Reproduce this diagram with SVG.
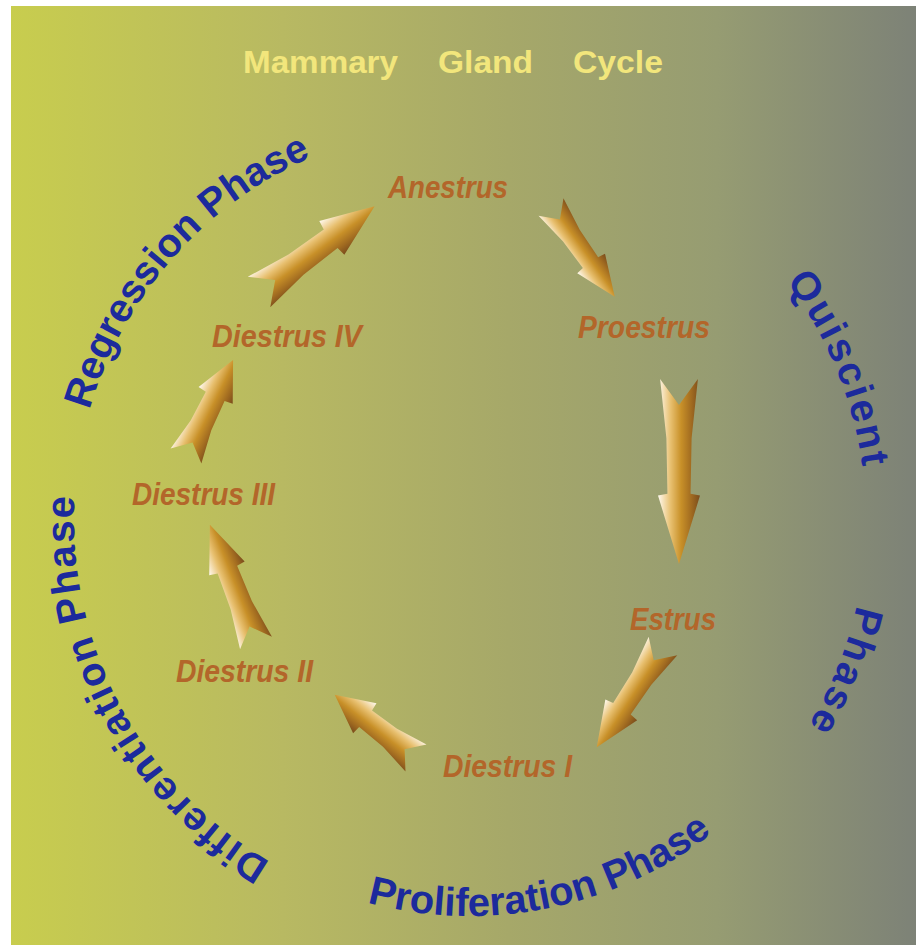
<svg xmlns="http://www.w3.org/2000/svg" xmlns:xlink="http://www.w3.org/1999/xlink" width="916" height="945" viewBox="0 0 916 945">
<defs>
<linearGradient id="bg" x1="0" y1="0" x2="1" y2="0">
<stop offset="0" stop-color="#c8cd4e"/>
<stop offset="0.3" stop-color="#b8b962"/>
<stop offset="0.55" stop-color="#a6a869"/>
<stop offset="0.78" stop-color="#969c72"/>
<stop offset="1" stop-color="#7d8277"/>
</linearGradient>
<linearGradient id="gA" x1="0" y1="0" x2="0" y2="1">
<stop offset="0" stop-color="#fffaf0"/>
<stop offset="0.3" stop-color="#e8c070"/>
<stop offset="0.55" stop-color="#c89028"/>
<stop offset="0.8" stop-color="#a06a20"/>
<stop offset="1" stop-color="#7a4c1c"/>
</linearGradient>
<linearGradient id="gB" x1="0" y1="1" x2="0" y2="0">
<stop offset="0" stop-color="#fffaf0"/>
<stop offset="0.3" stop-color="#e8c070"/>
<stop offset="0.55" stop-color="#c89028"/>
<stop offset="0.8" stop-color="#a06a20"/>
<stop offset="1" stop-color="#7a4c1c"/>
</linearGradient>
<path id="arr" d="M0,-18 L14,0 L0,18 L32,12 L62,11 L63,20 L100,0 L63,-20 L62,-11 L32,-12 Z"/>
<path id="cw180" d="M74,520 A396,396 0 0 1 866,520 A396,396 0 0 1 74,520"/>
<path id="cw0" d="M866,520 A396,396 0 0 1 74,520 A396,396 0 0 1 866,520"/>
<path id="ccw180" d="M74,520 A396,396 0 0 0 866,520 A396,396 0 0 0 74,520"/>
</defs>
<style>
.title{font-family:"Liberation Sans",Arial,sans-serif;font-weight:bold;font-size:31px;fill:#f2e67c}
.lbl{font-family:"Liberation Sans",Arial,sans-serif;font-weight:bold;font-style:italic;font-size:32px;fill:#b3662a}
.phase{font-family:"Liberation Sans",Arial,sans-serif;font-weight:bold;font-size:40px;fill:#1c2a9c}
</style>
<rect x="11" y="6" width="905" height="939" fill="url(#bg)"/>

<g id="title">
<text class="title" x="243" y="73" textLength="155" lengthAdjust="spacingAndGlyphs">Mammary</text>
<text class="title" x="438" y="73" textLength="95" lengthAdjust="spacingAndGlyphs">Gland</text>
<text class="title" x="573" y="73" textLength="90" lengthAdjust="spacingAndGlyphs">Cycle</text>
</g>

<g id="phases">
<text class="phase"><textPath href="#cw180" startOffset="285" text-anchor="middle">Regression Phase</textPath></text>
<text class="phase" letter-spacing="2.5"><textPath href="#cw180" startOffset="1090" text-anchor="middle">Quiscient</textPath></text>
<text class="phase" letter-spacing="3"><textPath href="#cw180" startOffset="1396" text-anchor="middle">Phase</textPath></text>
<text class="phase" letter-spacing="1.8"><textPath href="#cw0" startOffset="1050" text-anchor="middle">Differentiation Phase</textPath></text>
<text class="phase"><textPath href="#ccw180" startOffset="700" text-anchor="middle">Proliferation Phase</textPath></text>
</g>

<g id="node-anestrus"><text class="lbl" x="388" y="198" textLength="120" lengthAdjust="spacingAndGlyphs">Anestrus</text></g>
<g id="node-proestrus"><text class="lbl" x="578" y="338" textLength="132" lengthAdjust="spacingAndGlyphs">Proestrus</text></g>
<g id="node-estrus"><text class="lbl" x="630" y="630" textLength="86" lengthAdjust="spacingAndGlyphs">Estrus</text></g>
<g id="node-diestrus1"><text class="lbl" x="443" y="777" textLength="129" lengthAdjust="spacingAndGlyphs">Diestrus I</text></g>
<g id="node-diestrus2"><text class="lbl" x="176" y="682" textLength="137" lengthAdjust="spacingAndGlyphs">Diestrus II</text></g>
<g id="node-diestrus3"><text class="lbl" x="132" y="505" textLength="143" lengthAdjust="spacingAndGlyphs">Diestrus III</text></g>
<g id="node-diestrus4"><text class="lbl" x="212" y="347" textLength="150" lengthAdjust="spacingAndGlyphs">Diestrus IV</text></g>

<g id="connectors">
<use href="#arr" fill="url(#gB)" transform="translate(551,207) rotate(54.6) scale(1.10,0.85)"/>
<use href="#arr" fill="url(#gB)" transform="translate(679,379) rotate(90) scale(1.85,1.05)"/>
<use href="#arr" fill="url(#gB)" transform="translate(663,646) rotate(123.2) scale(1.21,0.95)"/>
<use href="#arr" fill="url(#gB)" transform="translate(416,758) rotate(-142.1) scale(1.03,0.95)"/>
<use href="#arr" fill="url(#gA)" transform="translate(256,643) rotate(-111.3) scale(1.27,0.95)"/>
<use href="#arr" fill="url(#gA)" transform="translate(186,456) rotate(-63.9) scale(1.07,0.95)"/>
<use href="#arr" fill="url(#gA)" transform="translate(259,292) rotate(-36.6) scale(1.44,1.05)"/>
</g>
</svg>
